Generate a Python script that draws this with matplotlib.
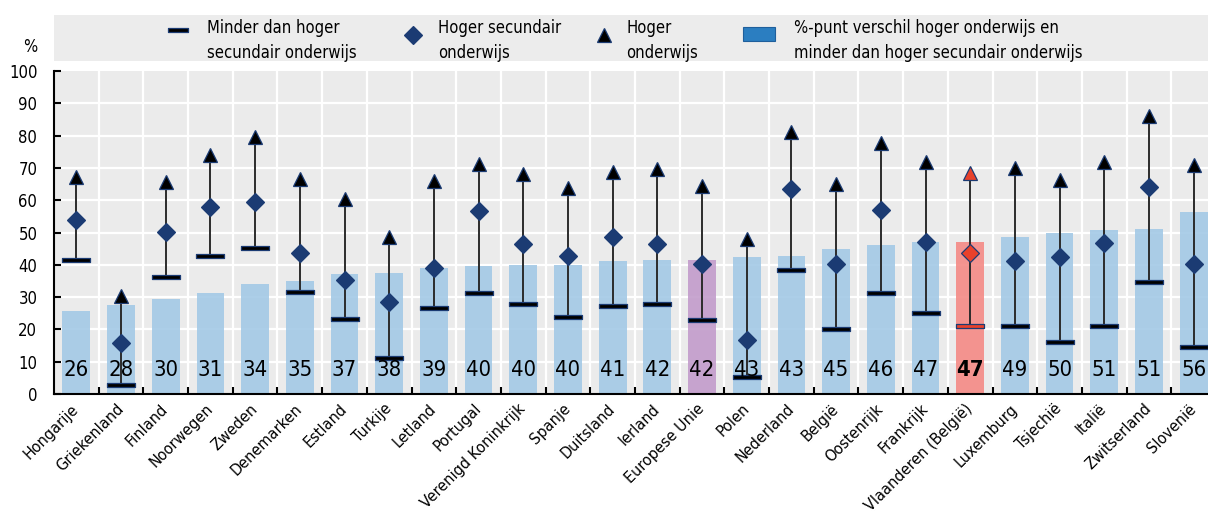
import matplotlib
matplotlib.use("Agg")
import matplotlib.pyplot as plt
from matplotlib import font_manager as fm
from matplotlib.path import Path
from matplotlib.patches import Rectangle
import numpy as np

countries = ['Hongarije', 'Griekenland', 'Finland', 'Noorwegen', 'Zweden', 'Denemarken',
             'Estland', 'Turkije', 'Letland', 'Portugal', 'Verenigd Koninkrijk', 'Spanje',
             'Duitsland', 'Ierland', 'Europese Unie', 'Polen', 'Nederland', 'België',
             'Oostenrijk', 'Frankrijk', 'Vlaanderen (België)', 'Luxemburg', 'Tsjechië',
             'Italië', 'Zwitserland', 'Slovenië']
low = [41.5, 2.8, 36.3, 42.7, 45.1, 31.5, 23.3, 11.2, 26.5, 31.4, 28.0, 23.7, 27.2,
       28.0, 22.8, 5.4, 38.3, 20.1, 31.2, 25.0, 21.2, 21.0, 16.0, 21.1, 34.6, 14.5]
mid = [53.9, 15.7, 50.1, 58.0, 59.3, 43.7, 35.3, 28.5, 39.1, 56.7, 46.4, 42.6, 48.5,
       46.3, 40.1, 16.6, 63.5, 40.1, 57.0, 47.2, 43.7, 41.2, 42.5, 46.6, 64.1, 40.4]
high = [67.2, 30.3, 65.7, 74.0, 79.5, 66.6, 60.4, 48.7, 66.0, 71.1, 68.1, 63.7, 68.6,
        69.7, 64.5, 47.9, 81.0, 65.0, 77.6, 71.9, 68.3, 69.9, 66.3, 71.9, 86.1, 70.9]
gap = [25.6, 27.6, 29.5, 31.2, 34.2, 35.1, 37.1, 37.5, 39.0, 39.5, 39.8, 39.9, 41.1,
       41.5, 41.6, 42.5, 42.7, 44.9, 46.1, 47.0, 47.1, 48.7, 50.0, 50.7, 51.2, 56.2]
gap_labels = ['26', '28', '30', '31', '34', '35', '37', '38', '39', '40', '40', '40', '41',
              '42', '42', '43', '43', '45', '46', '47', '47', '49', '50', '51', '51', '56']
y_ticks = [0, 10, 20, 30, 40, 50, 60, 70, 80, 90, 100]
legend_labels = ['Minder dan hoger\nsecundair onderwijs', 'Hoger secundair\nonderwijs',
                 'Hoger\nonderwijs',
                 '%-punt verschil hoger onderwijs en\nminder dan hoger secundair onderwijs']


# ---- font selection: prefer a narrow/condensed face ----
def find_file(keys):
    for k in keys:
        for f in fm.fontManager.ttflist:
            if f.fname.endswith(k):
                return f.fname
    return None


reg_file = find_file(['LiberationSansNarrow-Regular.ttf', 'DejaVuSansCondensed.ttf'])
bold_file = find_file(['LiberationSansNarrow-Bold.ttf', 'DejaVuSansCondensed-Bold.ttf'])
if reg_file is not None and 'Narrow' in reg_file:
    S = 1.12
elif reg_file is not None:
    S = 1.0
else:
    S = 0.94


def fp(size, bold=False):
    f = bold_file if bold else reg_file
    if f is None:
        return fm.FontProperties(family=['Liberation Sans', 'DejaVu Sans'], size=size * S,
                                 weight='bold' if bold else 'normal')
    return fm.FontProperties(fname=f, size=size * S)


NAVY = '#1b3b73'
RED = '#e8412b'
BAR = '#a3c9e6'
BAR_EU = '#c29ccb'
BAR_VL = '#f48a85'
BG = '#ebebeb'

bar_colors = []
for c in countries:
    if c == 'Europese Unie':
        bar_colors.append(BAR_EU)
    elif c.startswith('Vlaanderen'):
        bar_colors.append(BAR_VL)
    else:
        bar_colors.append(BAR)

W, H = 1208, 514
fig = plt.figure(figsize=(W / 100, H / 100), dpi=100)
ax = fig.add_axes([54 / W, 120 / H, (1216 - 54) / W, 323 / H])
ax.set_facecolor(BG)
x = np.arange(len(countries))
ax.set_xlim(-0.5, len(countries) - 0.5)
ax.set_ylim(0, 100)

# grid
for yv in y_ticks[1:-1]:
    ax.axhline(yv, color='white', lw=1.6, zorder=0.5)
for xb in np.arange(0.5, len(countries) - 0.5, 1):
    ax.axvline(xb, color='white', lw=1.6, zorder=0.5)

ax.bar(x, gap, width=0.62, color=bar_colors, alpha=0.9, zorder=1)

# dash marker path
dash = Path([(-1, -0.16), (1, -0.16), (1, 0.16), (-1, 0.16), (-1, -0.16)],
            [Path.MOVETO, Path.LINETO, Path.LINETO, Path.LINETO, Path.CLOSEPOLY])

for i in range(len(countries)):
    vl = countries[i].startswith('Vlaanderen')
    fc = RED if vl else 'black'
    fcd = RED if vl else NAVY
    ax.plot([x[i], x[i]], [low[i], high[i]], color='#2b2b2b', lw=1.4, zorder=2)
    ax.plot(x[i], low[i], marker=dash, ms=20.5, mfc=fc, mec=NAVY, mew=0.9,
            ls='none', zorder=3)
    ax.plot(x[i], high[i], marker='^', ms=10, mfc=fc, mec=NAVY, mew=0.9,
            ls='none', zorder=3)
    ax.plot(x[i], mid[i], marker='D', ms=9.6, mfc=fcd, mec=NAVY, mew=0.9,
            ls='none', zorder=3)
    ax.text(x[i], 7.4, gap_labels[i], ha='center', va='center',
            fontproperties=fp(15.8, bold=vl), color='black', zorder=4)

for s in ['top', 'right']:
    ax.spines[s].set_visible(False)
for s in ['left', 'bottom']:
    ax.spines[s].set_linewidth(1.5)
    ax.spines[s].set_color('black')
    ax.spines[s].set_zorder(5)

ax.set_yticks(y_ticks)
ax.set_yticklabels([str(v) for v in y_ticks], fontproperties=fp(12))
ax.tick_params(axis='y', direction='in', length=5, width=1.5, pad=12)
ax.set_xticks(x)
ax.set_xticklabels(countries, rotation=45, ha='right', va='center',
                   rotation_mode='anchor', fontproperties=fp(11.6))
ax.tick_params(axis='x', which='major', length=0, pad=9)
ax.set_xticks(np.arange(0.5, len(countries) - 0.5, 1), minor=True)
ax.tick_params(axis='x', which='minor', direction='in', length=5, width=1.5)

fig.text(30 / W, 1 - 47 / H, '%', ha='center', va='center', fontproperties=fp(12))

# legend band
lax = fig.add_axes([54 / W, 1 - 61 / H, (W - 54) / W, 46 / H])
lax.set_facecolor('#ececec')
lax.set_xlim(54, W)
lax.set_ylim(61, 15)
lax.set_xticks([])
lax.set_yticks([])
for s in lax.spines.values():
    s.set_visible(False)
lax.plot(178, 29.5, marker=dash, ms=14.5, mfc='black', mec=NAVY, mew=0.9, ls='none')
lax.plot(413, 35, marker='D', ms=9.6, mfc=NAVY, mec=NAVY, mew=0.9, ls='none')
lax.plot(604, 35, marker='^', ms=10, mfc='black', mec=NAVY, mew=0.9, ls='none')
lax.add_patch(Rectangle((743, 27), 32, 14, facecolor='#2b7ec1', edgecolor='#1f5f9c', lw=0.8))
for tx, lab in zip([207, 438, 626, 794], legend_labels):
    lax.text(tx, 40.5, lab, ha='left', va='center', fontproperties=fp(11.9), linespacing=1.45)

fig.savefig('out.png', dpi=100, facecolor='white')
